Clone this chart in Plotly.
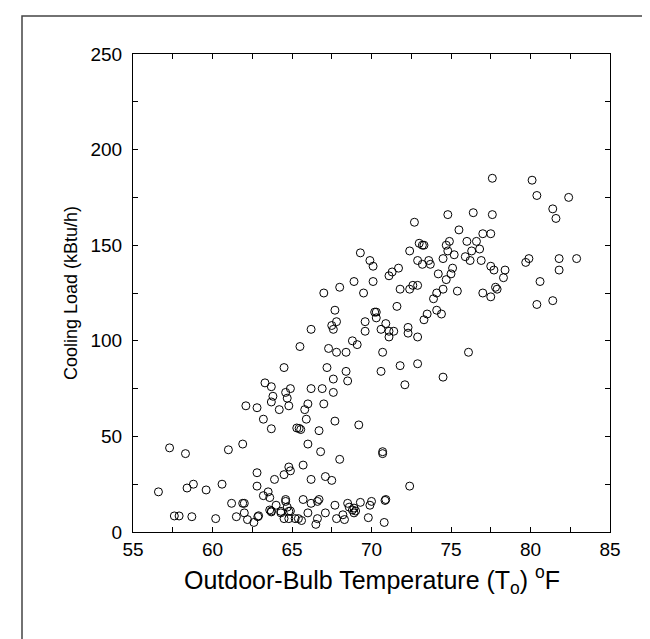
import plotly.graph_objects as go

# Outdoor temperature (°F) and cooling load (kBtu/h)
temp_f = [
    77.6, 80.1, 80.4, 82.4, 81.4, 81.6, 72.7, 74.8, 76.4, 77.6, 75.5, 77.0, 77.5, 74.9, 74.7,
    76.0, 76.6, 73.0, 73.2, 73.3, 69.3, 72.4, 74.8, 75.2, 76.3, 76.8, 75.9, 76.2, 76.9, 69.9,
    72.9, 73.6, 74.5, 73.2, 73.7, 70.1, 79.7, 79.9, 81.8, 82.9, 77.5, 77.7, 78.4, 78.3, 81.8,
    75.1, 75.0, 74.7, 74.2, 71.7, 71.3, 71.1, 80.6, 68.9, 70.1, 72.6, 72.9, 72.4, 71.8, 68.0,
    67.0, 69.5, 74.5, 75.4, 77.0, 77.5, 77.8, 77.9, 74.1, 73.9, 81.4, 80.4, 71.6, 74.1, 74.4,
    73.5, 73.3, 70.2, 70.3, 70.3, 67.7, 67.8, 67.5, 67.6, 69.6, 70.9, 72.3, 70.6, 71.1, 71.4,
    72.3, 69.6, 66.2, 71.1, 72.9, 68.8, 69.1, 65.5, 67.3, 67.8, 68.4, 70.7, 76.1, 67.2, 71.8,
    72.9, 64.5, 68.4, 70.6, 67.6, 68.5, 74.5, 72.1, 63.3, 63.7, 64.9, 66.2, 66.9, 64.6, 67.6,
    63.8, 64.7, 63.7, 64.8, 66.0, 67.0, 62.1, 62.8, 64.2, 65.8, 63.2, 65.9, 67.7, 63.7, 65.3,
    65.45, 65.55, 69.2, 66.7, 66.0, 61.9, 61.0, 57.3, 58.3, 66.8, 70.7, 70.7, 68.0, 65.7, 64.8,
    64.9, 64.5, 62.8, 67.1, 67.5, 63.9, 66.2, 60.6, 58.8, 58.4, 62.8, 72.4, 59.6, 56.6, 63.5,
    63.2, 63.6, 61.2, 61.9, 62.0, 64.0, 64.6, 64.6, 65.7, 66.7, 66.6, 66.2, 67.7, 68.5, 69.3,
    70.0, 69.9, 70.9, 70.85, 68.6, 68.9, 68.9, 67.1, 68.2, 67.8, 68.3, 69.8, 70.8, 66.0, 66.5,
    66.6, 65.6, 65.4, 65.2, 64.8, 64.5, 64.9, 64.7, 64.3, 63.7, 63.6, 62.9, 62.85, 62.6, 62.2,
    62.0, 61.5, 60.2, 58.7, 57.9, 57.6, 64.3, 64.8, 69.0, 68.8, 63.7,
]
load_kbtuh = [
    185, 184, 176, 175, 169, 164, 162, 166, 167, 166, 158, 156, 156, 152, 150,
    152, 152, 151, 150, 150, 146, 147, 147, 145, 147, 148, 144, 142, 142, 142,
    142, 142, 143, 140, 140, 139, 141, 143, 143, 143, 139, 137, 137, 133, 137,
    138, 135, 132, 135, 138, 136, 134, 131, 131, 131, 129, 129, 127, 127, 128,
    125, 125, 127, 126, 125, 123, 128, 127, 125, 122, 121, 119, 118, 116, 114,
    114, 111, 115, 115, 112, 116, 110, 108, 106, 110, 109, 107, 106, 105, 105,
    104, 105, 106, 102, 102, 100, 98, 97, 96, 94, 94, 94, 94, 86, 87,
    88, 86, 84, 84, 80, 79, 81, 77, 78, 76, 75, 75, 75, 73, 73,
    71, 70, 68, 66, 67, 67, 66, 65, 64, 64, 59, 59, 58, 54, 54.4,
    54.2, 53.6, 56, 53, 46, 46, 43, 44, 41, 42, 42, 41, 38, 35, 34,
    32, 30, 31, 29, 27, 27.5, 27.5, 25, 25, 23, 24, 24, 22, 21, 21,
    19, 18, 15, 15, 15, 14, 17, 16, 17, 17, 16, 15, 14, 15, 15.5,
    16, 14, 17, 16.5, 13, 12.5, 10, 10, 9, 7, 6.5, 7.5, 5, 10, 4,
    7, 6, 7, 7, 7, 7, 11, 13, 10, 10.5, 11.5, 8.5, 8, 5, 6.5,
    10, 8, 7, 8, 8.4, 8.4, 10.8, 10.8, 11, 11.5, 11,
]

x_range = [55, 85]
y_range = [0, 250]
x_ticks = [55, 60, 65, 70, 75, 80, 85]
y_ticks = [0, 50, 100, 150, 200, 250]

FONT = "Liberation Sans, Arial, sans-serif"

fig = go.Figure()
fig.add_trace(go.Scatter(
    x=temp_f, y=load_kbtuh, mode="markers",
    marker=dict(symbol="circle-open", size=8, color="black", line=dict(width=1, color="black")),
    showlegend=False, hoverinfo="x+y",
))

axis_common = dict(
    showline=True, linecolor="black", linewidth=1, mirror="ticks",
    ticks="inside", ticklen=5, tickwidth=1, tickcolor="black",
    showgrid=False, zeroline=False,
    tickfont=dict(family=FONT, size=19, color="black"),
)

fig.update_xaxes(range=x_range, tickvals=x_ticks, ticktext=[str(v) for v in x_ticks],
                 minor=dict(ticks="inside", ticklen=5, dtick=2.5, tick0=55, tickcolor="black"),
                 **axis_common)
fig.update_yaxes(range=y_range, tickvals=y_ticks, ticktext=[str(v) for v in y_ticks],
                 minor=dict(ticks="inside", ticklen=5, dtick=25, tick0=0, tickcolor="black"),
                 ticklabelstandoff=6, **axis_common)

L, R, T, B = 125, 48, 46, 115
W, H = 650, 639
pw, ph = W - L - R, H - T - B

def px_x(p):
    return (p - L) / pw

def px_y(p):
    return (H - B - p) / ph

fig.add_shape(type="rect", xref="paper", yref="paper",
              x0=px_x(14), x1=px_x(648.5), y0=px_y(632), y1=px_y(8),
              line=dict(color="#444444", width=1.5), fillcolor="rgba(0,0,0,0)", layer="below")

fig.add_annotation(xref="paper", yref="paper", x=0.5, y=px_y(572),
                   text="Outdoor-Bulb Temperature (T<sub>o</sub>) <sup>o</sup>F",
                   showarrow=False, xanchor="center", yanchor="middle",
                   font=dict(family=FONT, size=25, color="black"))
fig.add_annotation(xref="paper", yref="paper", x=px_x(63), y=px_y(285),
                   text="Cooling Load (kBtu/h)", textangle=-90,
                   showarrow=False, xanchor="center", yanchor="middle",
                   font=dict(family=FONT, size=18, color="black"))

fig.update_layout(
    width=W, height=H,
    margin=dict(l=L, r=R, t=T, b=B),
    paper_bgcolor="white", plot_bgcolor="white",
    font=dict(family=FONT, color="black"),
)

fig.write_html("out.html")
